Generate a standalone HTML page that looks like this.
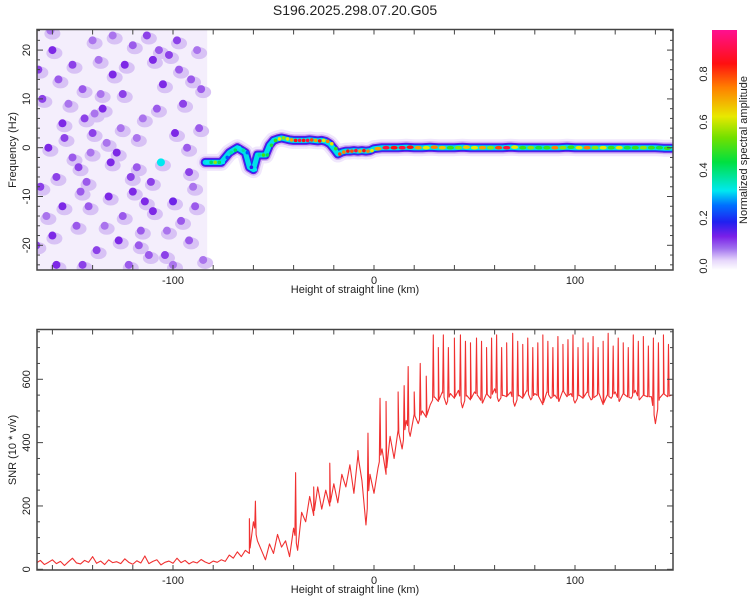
<!DOCTYPE html>
<html><head><meta charset="utf-8"><style>
html,body{margin:0;padding:0;background:#fff;}
svg text{font-family:"Liberation Sans",sans-serif;fill:#222;}
</style></head><body>
<svg id="chart" width="750" height="600" xmlns="http://www.w3.org/2000/svg">
<defs>
<clipPath id="clipTop"><rect x="37" y="29.5" width="636" height="240.5"/></clipPath>
<clipPath id="clipBot"><rect x="37" y="329.5" width="636" height="240.5"/></clipPath>
<linearGradient id="cbar" x1="0" y1="1" x2="0" y2="0">
<stop offset="0" stop-color="#ffffff"/><stop offset="0.04" stop-color="#e6d6fb"/><stop offset="0.09" stop-color="#a070ee"/>
<stop offset="0.14" stop-color="#7a20e8"/><stop offset="0.2" stop-color="#2020f0"/><stop offset="0.27" stop-color="#0070ff"/>
<stop offset="0.33" stop-color="#00e8f0"/><stop offset="0.45" stop-color="#00e040"/><stop offset="0.55" stop-color="#70e000"/>
<stop offset="0.64" stop-color="#e8e800"/><stop offset="0.76" stop-color="#ff8000"/><stop offset="0.86" stop-color="#ff1010"/>
<stop offset="1" stop-color="#ff1090"/></linearGradient>
</defs>
<text x="355" y="15" font-size="14" text-anchor="middle">S196.2025.298.07.20.G05</text>
<g id="top">
<g id="topMarks" clip-path="url(#clipTop)"></g>
<rect x="37" y="29.5" width="636" height="240.5" fill="none" stroke="#444" stroke-width="1.5"/>
<g id="topTicks"></g>
<text x="355" y="293" font-size="11" text-anchor="middle">Height of straight line (km)</text>
<text transform="translate(16,150) rotate(-90)" font-size="11" text-anchor="middle">Frequency (Hz)</text>
</g>
<g id="cb">
<rect x="712" y="30" width="25" height="240" fill="url(#cbar)"/>
<g id="cbTicks"></g>
<text transform="translate(747,150) rotate(-90)" font-size="11" text-anchor="middle">Normalized spectral amplitude</text>
</g>
<g id="bot">
<g id="botMarks" clip-path="url(#clipBot)"></g>
<rect x="37" y="329.5" width="636" height="240.5" fill="none" stroke="#444" stroke-width="1.5"/>
<g id="botTicks"></g>
<text x="355" y="593" font-size="11" text-anchor="middle">Height of straight line (km)</text>
<text transform="translate(16,450) rotate(-90)" font-size="11" text-anchor="middle">SNR (10 * v/v)</text>
</g>
</svg>
<script>
const xTickLabels=[-100,0,100];
const yTopTickLabels=[-20,-10,0,10,20];
const yBotTickLabels=[0,200,400,600];
const cbTickLabels=[0.0,0.2,0.4,0.6,0.8];
// noise blobs: km, hz, amplitude
const noiseKm=[-160,-150,-140,-130,-120,-110,-98,-88,-165,-155,-145,-135,-125,-115,-105,-95,-87,-162,-150,-140,-128,-118,-106,-92,-166,-155,-143,-132,-121,-110,-100,-90,-160,-148,-138,-127,-116,-104,-92,-85,-158,-145,-122,-100,-157,-137,-113,-147,-125,-133,-97,-163,-108,-120,-142,-152,-93,-130,-144,-118,-102,-134,-112,-154,-96,-126,-167,-146,-124,-103,-86,-158,-136,-114,-91,-168,-141,-117,-99,-139,-111,-89,-161,-131,-107];
const noiseHz=[20,17,22,15,21,18,22,20,10,5,12,8,11,6,13,9,4,0,-2,3,-1,2,-3,-5,-8,-12,-7,-10,-6,-13,-11,-8,-18,-16,-21,-19,-17,-22,-19,-23,-24,-24,-24,-24,14,18,23,-4,-14,1,16,-14,8,-9,-12,9,0,23,6,-4,19,-16,-22,2,-15,4,16,-9,17,-17,12,-6,11,-11,14,-20,-1,-20,3,7,-7,-12,24,-3,20];
const noiseAmp=[.15,.14,.12,.15,.13,.15,.14,.12,.14,.15,.13,.15,.14,.12,.15,.14,.13,.15,.13,.14,.15,.12,.3,.14,.14,.15,.13,.15,.14,.15,.16,.12,.15,.13,.14,.15,.13,.14,.13,.12,.15,.14,.13,.12,.13,.12,.14,.14,.13,.12,.13,.12,.13,.15,.13,.12,.13,.12,.14,.13,.14,.12,.13,.14,.13,.12,.14,.13,.15,.12,.13,.14,.12,.15,.13,.14,.12,.13,.15,.12,.14,.13,.12,.15,.13];
// ridge
const ridgeKm=[-84,-82,-80,-78,-76,-74,-72,-70,-68,-66,-64,-62,-60,-58,-56,-54,-52,-50,-48,-46,-44,-42,-40,-38,-36,-34,-32,-30,-28,-26,-24,-22,-20,-18,-16,-14,-12,-10,-8,-6,-4,-2,0,4,8,12,16,20,24,28,32,36,40,44,48,52,56,60,64,68,72,76,80,84,88,92,96,100,104,108,112,116,120,124,128,132,136,140,144,148];
const ridgeHz=[-3,-3,-3,-3,-3,-2,-1,-0.5,0,-0.5,-1,-4,-4.5,-1.5,-1.5,-1.5,0.5,1.5,1.8,2,1.8,1.6,1.5,1.5,1.5,1.5,1.6,1.5,1.4,1.5,1.3,0.8,-0.2,-1.3,-0.9,-0.7,-0.7,-0.6,-0.7,-0.6,-0.7,-0.6,-0.2,0,0,0,0.1,0,0,0.1,0,0,0,0.1,0,0,0,0,0,0.1,0,0,0,0,0,0,0.1,0,0,0,0,0,0,0,0,0,0,0,-0.1,-0.1];
const ridgeAmp=[.3,.4,.55,.4,.3,.25,.35,.4,.3,.35,.25,.2,.3,.35,.5,.4,.45,.5,.6,.55,.6,.7,.85,.9,.85,.9,.8,.7,.85,.6,.75,.6,.5,.8,.75,.85,.8,.9,.7,.85,.75,.6,.7,.9,.85,.9,.85,.7,.6,.75,.65,.5,.55,.65,.6,.7,.55,.8,.9,.6,.5,.55,.45,.5,.75,.55,.5,.6,.75,.55,.6,.5,.6,.45,.5,.55,.5,.45,.5,.6];
// SNR
const snrStartKm=-168, snrStepKm=2;
const snrBase=[20,28,15,22,30,18,25,12,24,35,20,17,28,22,40,19,26,15,30,21,24,18,33,22,16,27,20,42,18,25,30,14,22,26,19,35,21,28,17,24,20,31,23,18,26,22,
30,25,45,35,55,40,60,50,150,90,60,30,80,50,110,70,90,40,130,60,180,150,230,170,260,190,250,200,270,210,300,260,330,240,360,280,140,300,240,320,380,300,420,350,440,380,470,420,490,460,500,480,520,
545,530,560,520,555,540,565,510,550,535,560,545,525,555,540,570,530,550,545,560,515,550,540,565,535,555,545,520,560,540,550,530,565,545,555,525,550,540,560,535,545,555,520,550,540,560,530,555,545,540,565,535,550,545,545,460,540,555,545,550];
const spikeKm=[-62,-59,-39,-30,-22,-8,-3,3,6,12,15,17,20,23,26,29.5,32,34.5,37,40,43,45.5,48,51,53.5,56,58.5,61,63.5,66,69,71.5,74,76.5,79,81.5,84,86.5,89,91.5,94,96.5,99,101.5,104,106.5,109,111.5,114,116.5,119,121.5,124,126.5,129,131.5,134,136.5,139,141.5,144,146.5];
const spikeVal=[160,215,305,260,335,375,430,540,530,560,580,640,560,650,610,740,700,740,700,730,740,720,715,730,720,700,730,740,700,715,745,720,710,730,700,715,740,720,700,735,710,725,740,700,730,715,735,700,720,745,705,730,715,700,740,720,735,705,730,715,740,710];

const NS='http://www.w3.org/2000/svg';
const X=km=>374+km*2.01;
const YT=hz=>147.7-hz*4.88;
const YB=v=>569.3-v*0.3167;
function mk(tag,attrs,parent){const e=document.createElementNS(NS,tag);for(const k in attrs)e.setAttribute(k,attrs[k]);parent.appendChild(e);return e;}
const stops=[[0,[255,255,255]],[.05,[230,214,251]],[.1,[200,166,242]],[.15,[125,40,230]],[.2,[50,20,240]],[.25,[0,90,255]],[.3,[0,232,240]],[.4,[0,224,90]],[.5,[60,224,20]],[.6,[232,232,0]],[.75,[255,128,0]],[.85,[255,16,16]],[1,[255,16,144]]];
function col(a){for(let i=1;i<stops.length;i++){if(a<=stops[i][0]){const[a0,c0]=stops[i-1],[a1,c1]=stops[i];const t=(a-a0)/(a1-a0);return 'rgb('+c0.map((v,j)=>Math.round(v+(c1[j]-v)*t)).join(',')+')';}}return 'rgb(255,16,144)';}

const tm=document.getElementById('topMarks');
const nf=mk('rect',{x:X(-168),y:29,width:X(-83)-X(-168),height:242,fill:'#f4eefc'},tm);


for(let i=0;i<noiseKm.length;i++){
  const h=mk('ellipse',{cx:X(noiseKm[i])+2,cy:YT(noiseHz[i])+3,rx:8,ry:6,fill:'#d8c2f5'},tm);
  
  
}
for(let i=0;i<noiseKm.length;i++){
  const c=mk('ellipse',{cx:X(noiseKm[i]),cy:YT(noiseHz[i]),rx:4,ry:4,fill:col(noiseAmp[i])},tm);
  
  
}
const pts=ridgeKm.map((k,i)=>X(k)+','+YT(ridgeHz[i])).join(' ');
[[17,'#f0e7fc'],[12,'#cfb2f3'],[9,'#6a18e6'],[7,'#1830f0'],[5,'#00e0e8']].forEach(([w,c])=>{
  const p=mk('polyline',{points:pts,fill:'none',stroke:c,'stroke-width':w,'stroke-linejoin':'round','stroke-linecap':'round'},tm);
  
  
});
for(let i=0;i<ridgeKm.length;i++){
  const n=i<ridgeKm.length-1?ridgeKm[i+1]-ridgeKm[i]:4;
  const e=mk('ellipse',{cx:X(ridgeKm[i])+n,cy:YT(ridgeHz[i]),rx:n*0.9,ry:1.8,fill:col(ridgeAmp[i])},tm);
  
  
}
function ticks(g,y0,y1,yF,yMin,yMax,yStep,yMajor,labels,labY,labX){
  for(let k=-160;k<=140;k+=20){
    mk('line',{x1:X(k),x2:X(k),y1:y1,y2:y1-5,stroke:'#444','stroke-width':1},g);
    mk('line',{x1:X(k),x2:X(k),y1:y0,y2:y0+5,stroke:'#444','stroke-width':1},g);
  }
  xTickLabels.forEach(k=>{const t=mk('text',{x:X(k),y:labY,'font-size':11,'text-anchor':'middle'},g);t.textContent=k;
    
    });
  for(let v=yMin;v<=yMax;v+=yStep){const L=(Math.abs(v%yMajor)<1e-9)?6:3;
    mk('line',{x1:37,x2:37+L,y1:yF(v),y2:yF(v),stroke:'#444','stroke-width':1},g);
    mk('line',{x1:673,x2:673-L,y1:yF(v),y2:yF(v),stroke:'#444','stroke-width':1},g);}
  labels.forEach(v=>{const t=mk('text',{transform:`translate(${labX},${yF(v)}) rotate(-90)`,'font-size':11,'text-anchor':'middle'},g);t.textContent=v;
    
    });
}
ticks(document.getElementById('topTicks'),29.5,270,YT,-24,24,2,10,yTopTickLabels,284,30);
ticks(document.getElementById('botTicks'),329.5,570,YB,0,750,50,200,yBotTickLabels,584,30);
const cbg=document.getElementById('cbTicks');
cbTickLabels.forEach(v=>{const y=266-v*240;const t=mk('text',{transform:`translate(707,${y}) rotate(-90)`,'font-size':11,'text-anchor':'middle'},cbg);t.textContent=v.toFixed(1);
  
  });
// SNR line: base points plus narrow spikes
function baseAt(k){const f=(k-snrStartKm)/snrStepKm;const i=Math.max(0,Math.min(snrBase.length-2,Math.floor(f)));const t=f-i;return snrBase[i]*(1-t)+snrBase[i+1]*t;}
const P=snrBase.map((v,i)=>[snrStartKm+i*snrStepKm,v]);
spikeKm.forEach((k,i)=>{P.push([k-0.35,baseAt(k-0.35)]);P.push([k,spikeVal[i]]);P.push([k+0.35,baseAt(k+0.35)]);});
P.sort((a,b)=>a[0]-b[0]);
const line=mk('polyline',{points:P.map(p=>X(p[0])+','+YB(p[1])).join(' '),fill:'none',stroke:'#f03030','stroke-width':1.1,'stroke-linejoin':'round'},document.getElementById('botMarks'));


</script>
</body></html>
